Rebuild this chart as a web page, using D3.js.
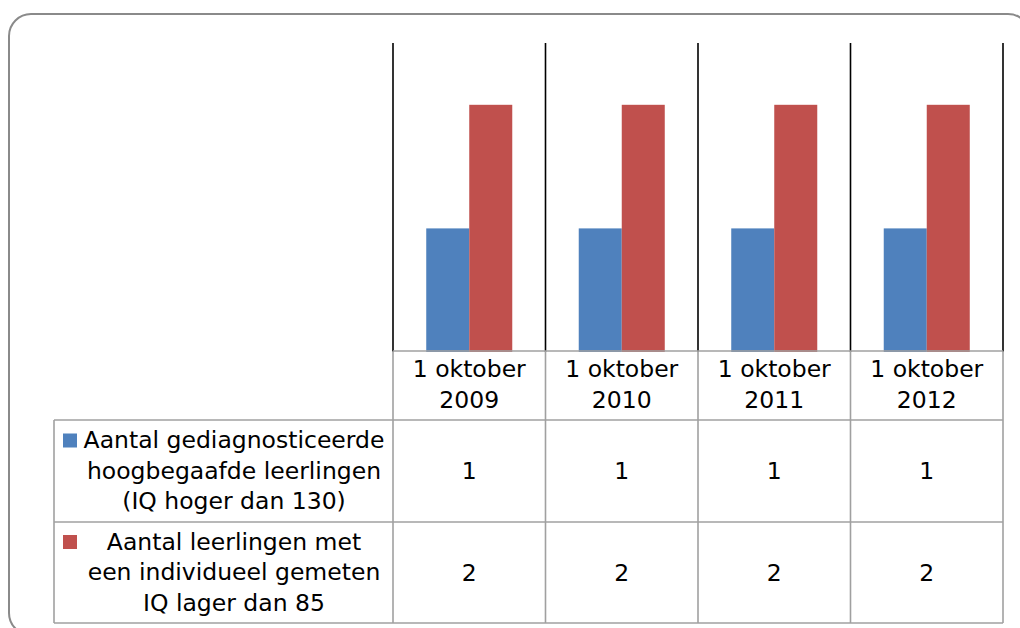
<!DOCTYPE html>
<html><head><meta charset="utf-8">
<script src="https://cdn.jsdelivr.net/npm/d3@7"></script>
<style>html,body{margin:0;padding:0;background:#fff;}svg{display:block;font-family:"DejaVu Sans",sans-serif;}</style>
</head><body>
<svg id="c" width="1020" height="628"></svg>
<script>
const categories = [["1 oktober","2009"],["1 oktober","2010"],["1 oktober","2011"],["1 oktober","2012"]];
const seriesNames = [
  ["Aantal gediagnosticeerde","hoogbegaafde leerlingen","(IQ hoger dan 130)"],
  ["Aantal leerlingen met","een individueel gemeten","IQ lager dan 85"]
];
const seriesColors = ["#4F81BD","#C0504D"];
const values1 = [1,1,1,1];
const values2 = [2,2,2,2];
const seriesValues = [values1, values2];

const svg = d3.select("#c");
// frame
svg.append("rect").attr("x",9).attr("y",14).attr("width",1021).attr("height",621)
  .attr("rx",22).attr("ry",22).attr("fill","#fff").attr("stroke","#8a8a8a").attr("stroke-width",2);

const x0 = d3.scaleBand().domain(d3.range(categories.length)).range([393,1003]).padding(0);
const x1 = d3.scaleBand().domain(d3.range(seriesValues.length)).range([0,x0.bandwidth()]).paddingInner(0).paddingOuter(0.773);
const y = d3.scaleLinear().domain([0,2.5]).range([352,43]);

// bars
seriesValues.forEach((vals,s)=>{
  svg.append("g").selectAll("rect").data(vals).join("rect")
    .attr("x",(d,i)=>x0(i)+x1(s))
    .attr("width",x1.bandwidth())
    .attr("y",d=>y(d))
    .attr("height",d=>y(0)-y(d))
    .attr("fill",seriesColors[s]);
});

// vertical gridlines
const bounds = d3.range(categories.length+1).map(i=> i<categories.length ? x0(i) : x0(categories.length-1)+x0.bandwidth());
svg.append("g").selectAll("line").data(bounds).join("line")
  .attr("x1",d=>d).attr("x2",d=>d).attr("y1",y(2.5)).attr("y2",y(0))
  .attr("stroke","#000").attr("stroke-width",1.6);

// table
const grey = "#a0a0a0";
const rowTops = [351,420,522,623];
const tLeft = 54, tRight = bounds[bounds.length-1];
const tg = svg.append("g");
tg.append("line").attr("x1",bounds[0]).attr("x2",tRight).attr("y1",rowTops[0]).attr("y2",rowTops[0]).attr("stroke",grey).attr("stroke-width",1.6);
rowTops.slice(1).forEach(yy=>{
  tg.append("line").attr("x1",tLeft).attr("x2",tRight).attr("y1",yy).attr("y2",yy).attr("stroke",grey).attr("stroke-width",1.6);
});
tg.append("line").attr("x1",tLeft).attr("x2",tLeft).attr("y1",rowTops[1]).attr("y2",rowTops[3]).attr("stroke",grey).attr("stroke-width",1.6);
bounds.forEach(b=>{
  tg.append("line").attr("x1",b).attr("x2",b).attr("y1",rowTops[0]).attr("y2",rowTops[3]).attr("stroke",grey).attr("stroke-width",1.6);
});

const fs = 23.5, lh = 30.5;
// header labels
categories.forEach((c,i)=>{
  const cx = x0(i)+x0.bandwidth()/2;
  const cy = (rowTops[0]+rowTops[1])/2;
  const t = svg.append("text").attr("text-anchor","middle").attr("font-size",fs).attr("fill","#000");
  c.forEach((line,k)=>{
    t.append("tspan").attr("x",cx).attr("y",cy + (k-(c.length-1)/2)*lh + fs*0.3).text(line);
  });
});
// row labels + values
seriesNames.forEach((lines,s)=>{
  const top = rowTops[s+1], bot = rowTops[s+2];
  const cy = (top+bot)/2;
  const cx = 234;
  const t = svg.append("text").attr("text-anchor","middle").attr("font-size",fs).attr("fill","#000");
  lines.forEach((line,k)=>{
    t.append("tspan").attr("x",cx).attr("y",cy + (k-(lines.length-1)/2)*lh + fs*0.33).text(line);
  });
  const firstY = cy - (lines.length-1)/2*lh;
  svg.append("rect").attr("x",63).attr("y",firstY-7).attr("width",14).attr("height",14).attr("fill",seriesColors[s]);
  seriesValues[s].forEach((v,i)=>{
    svg.append("text").attr("text-anchor","middle").attr("font-size",fs).attr("fill","#000")
      .attr("x",x0(i)+x0.bandwidth()/2).attr("y",cy+fs*0.36).text(v);
  });
});
</script>
</body></html>
